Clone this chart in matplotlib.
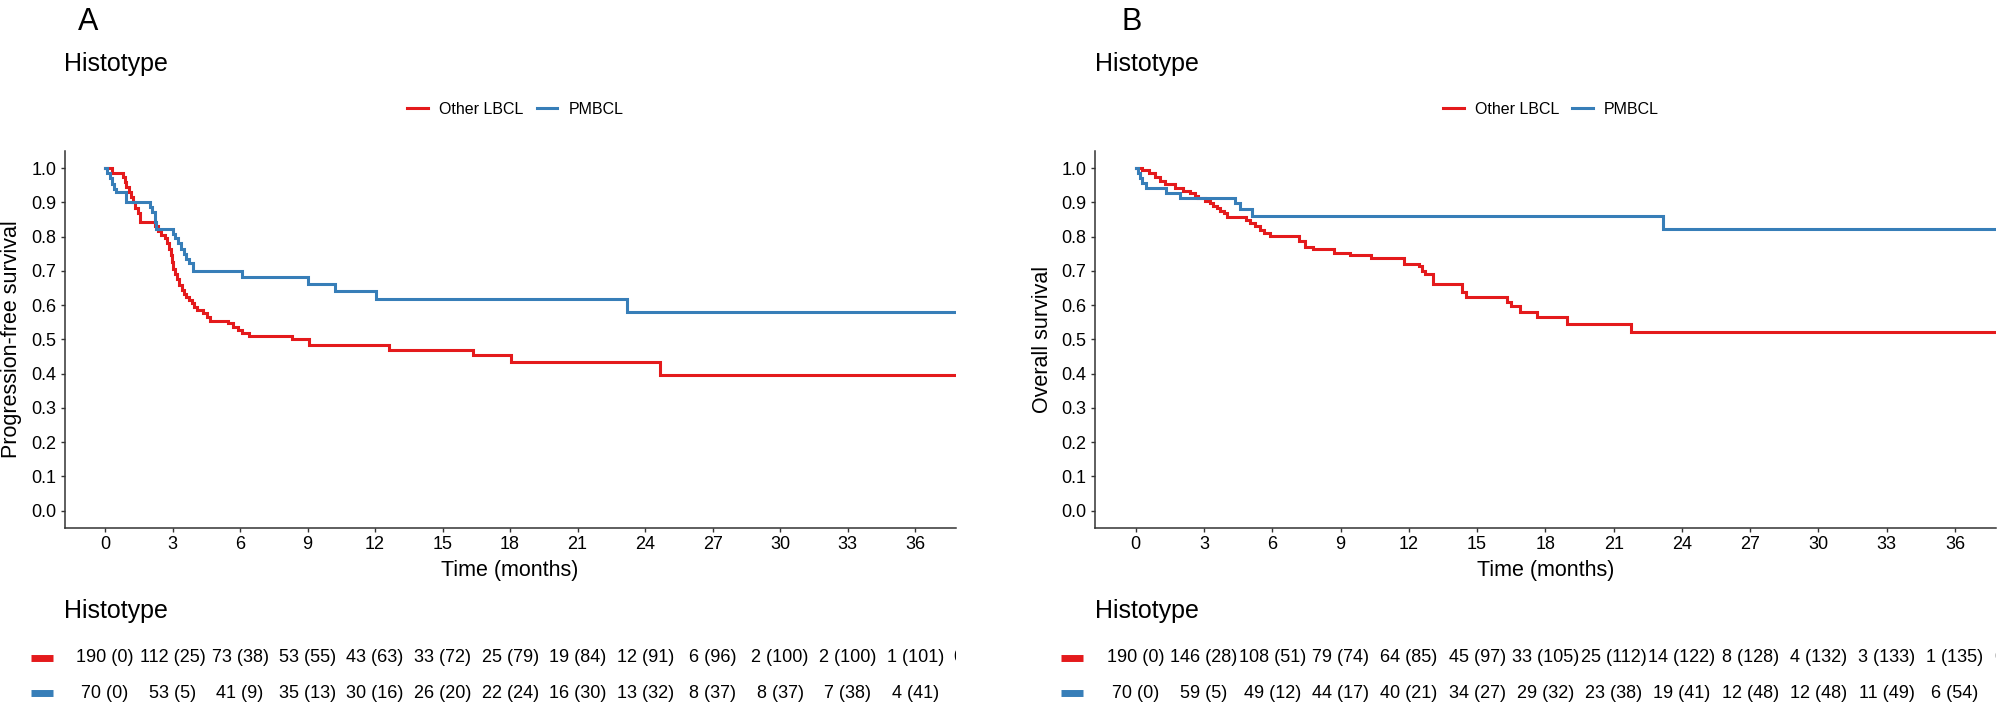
import matplotlib
matplotlib.use('Agg')
import matplotlib.pyplot as plt
from matplotlib.lines import Line2D

plt.rcParams['font.family'] = ['Liberation Sans', 'DejaVu Sans']

RED = '#E41A1C'
BLUE = '#377EB8'

GROUPS = ['Other LBCL', 'PMBCL']
TITLE = 'Histotype'
PANELS = ['A', 'B']
YLABELS = ['Progression-free survival', 'Overall survival']
XLABEL = 'Time (months)'
XTICKS = [0, 3, 6, 9, 12, 15, 18, 21, 24, 27, 30, 33, 36]
YTICKS = [0.0, 0.1, 0.2, 0.3, 0.4, 0.5, 0.6, 0.7, 0.8, 0.9, 1.0]
RISK_TIMES = [0, 3, 6, 9, 12, 15, 18, 21, 24, 27, 30, 33, 36, 39]

# panel A - progression-free survival (step points)
pfs_other_t = [0, 0.30, 0.80, 0.88, 0.95, 1.05, 1.15, 1.25, 1.35, 1.45, 1.55, 2.22, 2.35,
               2.50, 2.65, 2.75, 2.85, 2.92, 2.97, 3.02, 3.10, 3.18, 3.29, 3.40, 3.51,
               3.62, 3.75, 3.85, 3.95, 4.10, 4.35, 4.55, 4.65, 5.45, 5.70, 5.90, 6.10,
               6.42, 8.32, 9.05, 12.62, 16.33, 18.05, 24.67, 39]
pfs_other_s = [1.0, 0.987, 0.975, 0.960, 0.945, 0.930, 0.915, 0.900, 0.885, 0.870, 0.844,
               0.830, 0.815, 0.805, 0.795, 0.780, 0.765, 0.745, 0.725, 0.705, 0.690,
               0.675, 0.660, 0.645, 0.632, 0.625, 0.615, 0.605, 0.595, 0.586, 0.576,
               0.565, 0.554, 0.547, 0.537, 0.527, 0.520, 0.510, 0.500, 0.484, 0.470,
               0.455, 0.435, 0.396, 0.396]
pfs_pmbcl_t = [0, 0.10, 0.20, 0.30, 0.40, 0.48, 0.93, 1.98, 2.10, 2.20, 2.28, 3.03, 3.13,
               3.25, 3.37, 3.50, 3.62, 3.75, 3.92, 6.10, 9.00, 10.23, 12.02, 23.20, 39]
pfs_pmbcl_s = [1.0, 0.985, 0.970, 0.955, 0.940, 0.929, 0.900, 0.886, 0.871, 0.843, 0.822,
               0.808, 0.795, 0.780, 0.765, 0.750, 0.736, 0.722, 0.700, 0.681, 0.662,
               0.641, 0.618, 0.580, 0.580]

# panel B - overall survival
os_other_t = [0, 0.30, 0.60, 0.85, 1.05, 1.30, 1.75, 2.10, 2.40, 2.60, 2.75, 3.05, 3.27,
              3.40, 3.57, 3.70, 3.86, 4.00, 4.85, 5.03, 5.25, 5.47, 5.64, 5.91, 7.16,
              7.45, 7.81, 8.70, 9.40, 10.35, 11.80, 12.45, 12.60, 12.70, 13.05, 14.35,
              14.50, 16.30, 16.50, 16.90, 17.63, 18.95, 21.78, 39]
os_other_s = [1.0, 0.995, 0.987, 0.975, 0.961, 0.953, 0.941, 0.932, 0.927, 0.920, 0.912,
              0.905, 0.898, 0.890, 0.883, 0.876, 0.868, 0.857, 0.848, 0.839, 0.830,
              0.820, 0.810, 0.802, 0.786, 0.771, 0.763, 0.753, 0.745, 0.737, 0.720,
              0.713, 0.701, 0.691, 0.662, 0.639, 0.625, 0.610, 0.596, 0.581, 0.566,
              0.545, 0.522, 0.522]
os_pmbcl_t = [0, 0.10, 0.20, 0.30, 0.45, 1.34, 1.95, 4.36, 4.60, 5.10, 23.18, 39]
os_pmbcl_s = [1.0, 0.985, 0.970, 0.956, 0.941, 0.927, 0.914, 0.897, 0.880, 0.861, 0.823,
              0.823]

# numbers at risk (cumulative events)
pfs_other_n = [190, 112, 73, 53, 43, 33, 25, 19, 12, 6, 2, 2, 1, 0]
pfs_other_ev = [0, 25, 38, 55, 63, 72, 79, 84, 91, 96, 100, 100, 101, 102]
pfs_pmbcl_n = [70, 53, 41, 35, 30, 26, 22, 16, 13, 8, 8, 7, 4]
pfs_pmbcl_ev = [0, 5, 9, 13, 16, 20, 24, 30, 32, 37, 37, 38, 41]
os_other_n = [190, 146, 108, 79, 64, 45, 33, 25, 14, 8, 4, 3, 1, 0]
os_other_ev = [0, 28, 51, 74, 85, 97, 105, 112, 122, 128, 132, 133, 135, 136]
os_pmbcl_n = [70, 59, 49, 44, 40, 34, 29, 23, 19, 12, 12, 11, 6]
os_pmbcl_ev = [0, 5, 12, 17, 21, 27, 32, 38, 41, 48, 48, 49, 54]

W, H = 2000, 707
fig = plt.figure(figsize=(W / 100, H / 100), dpi=100)

# layout in pixels
ax_left = [64.5, 1094.7]
ax_right = [955.7, 1996.0]
ylab_x = [22.0, 1053.0]
ax_top, ax_bot = 151.0, 527.7
tab_top = 640.0

curves = [
    [(pfs_other_t, pfs_other_s), (pfs_pmbcl_t, pfs_pmbcl_s)],
    [(os_other_t, os_other_s), (os_pmbcl_t, os_pmbcl_s)],
]
risk = [
    [(pfs_other_n, pfs_other_ev), (pfs_pmbcl_n, pfs_pmbcl_ev)],
    [(os_other_n, os_other_ev), (os_pmbcl_n, os_pmbcl_ev)],
]
colors = [RED, BLUE]

for p in range(2):
    l = ax_left[p] / W
    w = (ax_right[p] - ax_left[p]) / W
    ax = fig.add_axes([l, (H - ax_bot) / H, w, (ax_bot - ax_top) / H])
    for (t, s), c in zip(curves[p], colors):
        ax.step(t, s, where='post', color=c, lw=2.2, solid_joinstyle='miter')
    ax.set_xlim(-1.8, 37.8)
    ax.set_ylim(-0.05, 1.05)
    ax.set_xticks(XTICKS)
    ax.set_yticks(YTICKS)
    ax.set_yticklabels(['%.1f' % v for v in YTICKS])
    for sp in ['top', 'right']:
        ax.spines[sp].set_visible(False)
    for sp in ['left', 'bottom']:
        ax.spines[sp].set_color('#333333')
        ax.spines[sp].set_linewidth(1.1)
    ax.tick_params(labelsize=13, length=3, width=1, color='#333333', pad=3,
                   labelcolor='black')
    ax.set_xlabel(XLABEL, fontsize=15.5)
    ax.set_ylabel(YLABELS[p], fontsize=15.5)
    ax.xaxis.set_label_coords(0.5, -0.085)
    ax.yaxis.set_label_coords((ylab_x[p] - ax_left[p]) / (ax_right[p] - ax_left[p]), 0.5)

    handles = [Line2D([], [], color=c, lw=2.2) for c in colors]
    ax.legend(handles, GROUPS, loc='center', bbox_to_anchor=(0.506, 1.111), ncol=2,
              frameon=False, fontsize=11.5, handlelength=1.3, handletextpad=0.7,
              columnspacing=0.8)

    # panel letter and title
    fig.text((ax_left[p] + 13 + 14 * p) / W, (H - 30) / H, PANELS[p], fontsize=22,
             va='baseline', ha='left')
    fig.text(ax_left[p] / W, (H - 71) / H, TITLE, fontsize=18, va='baseline', ha='left')

    # risk table
    tab = fig.add_axes([l, 0, w, (H - tab_top) / H])
    tab.set_xlim(-1.8, 37.8)
    tab.set_ylim(0, 1)
    tab.axis('off')
    fig.text(ax_left[p] / W, (H - 618) / H, TITLE, fontsize=18, va='baseline', ha='left')
    rows_y = [(H - 658) / (H - tab_top), (H - 693) / (H - tab_top)]
    for (n, ev), c, ry in zip(risk[p], colors, rows_y):
        for tt, nn, ee in zip(RISK_TIMES, n, ev):
            tab.text(tt, ry, '%d (%d)' % (nn, ee), fontsize=13, ha='center',
                     va='center', clip_on=True)
        tab.plot([-3.3, -2.3], [ry, ry], color=c, lw=5, solid_capstyle='butt',
                 clip_on=False)

fig.savefig('out.png', dpi=100)
